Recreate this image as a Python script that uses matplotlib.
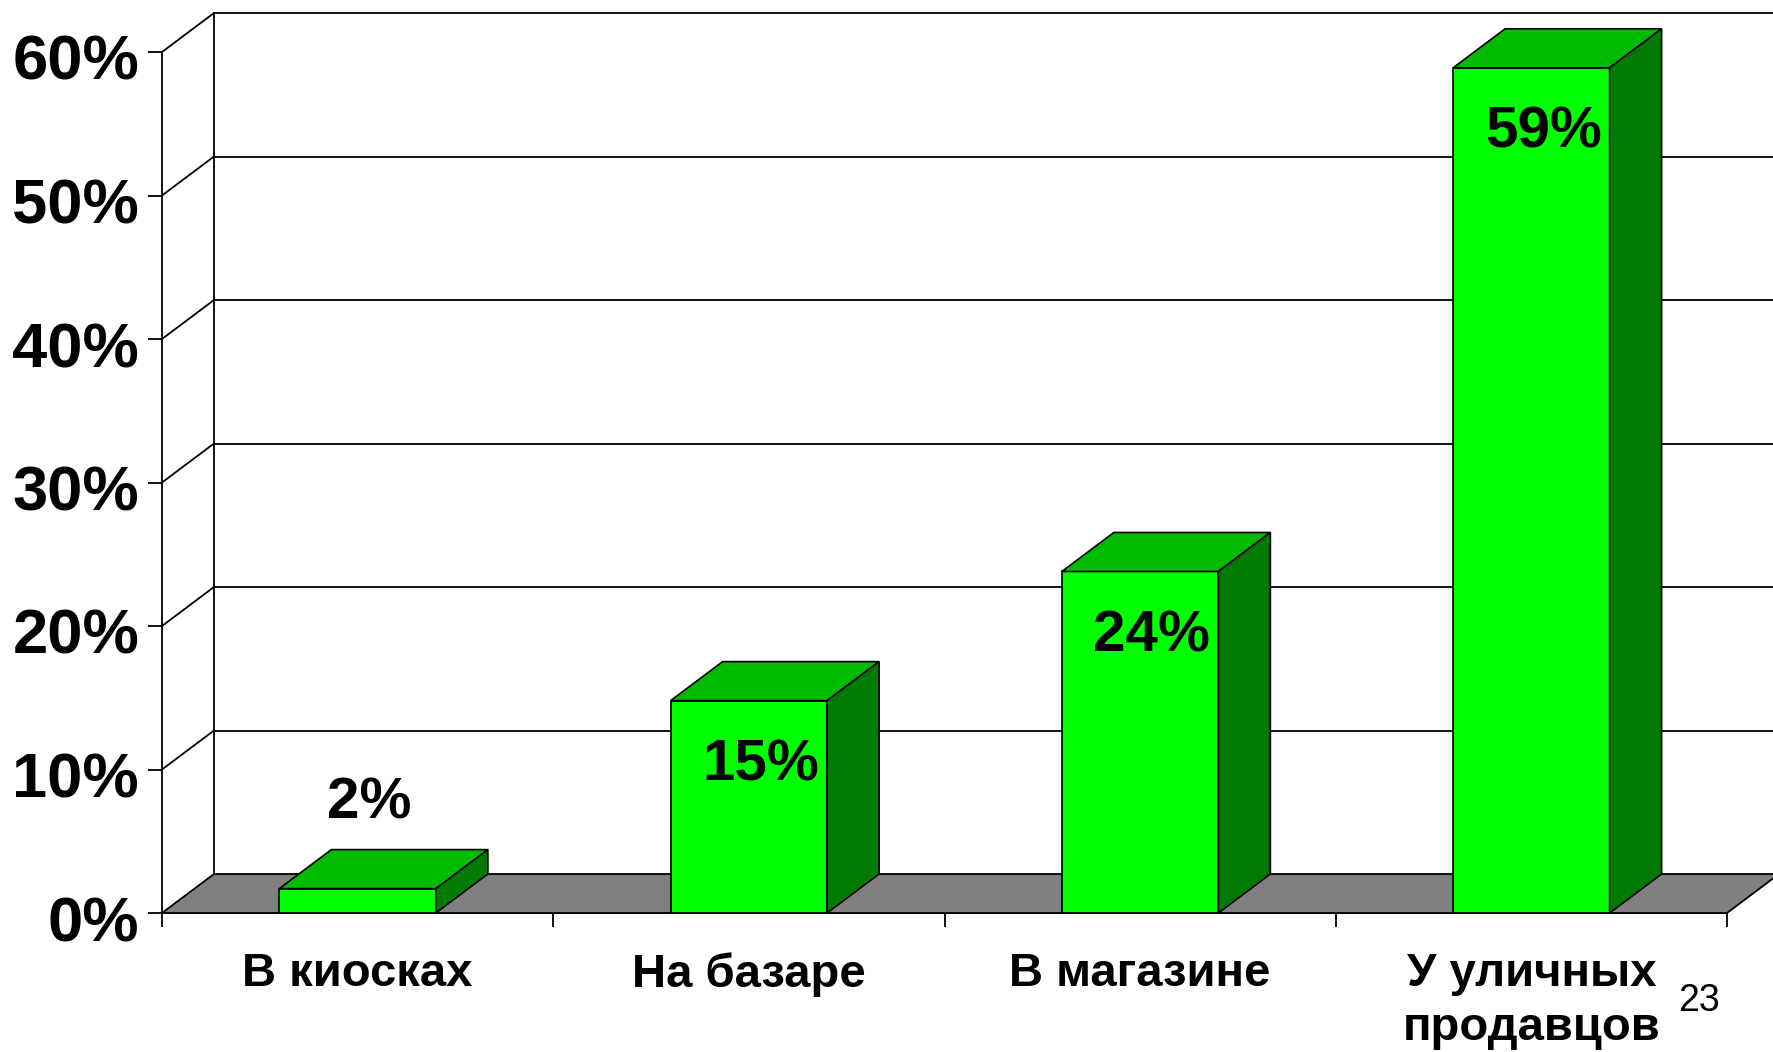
import matplotlib
matplotlib.use('Agg')
import matplotlib.pyplot as plt
from matplotlib.patches import Polygon
from matplotlib.transforms import ScaledTranslation

# ---- data ----
categories = ['В киосках', 'На базаре', 'В магазине', 'У уличных\nпродавцов']
values = [1.7, 14.8, 23.8, 58.9]
value_labels = ['2%', '15%', '24%', '59%']
y_ticks = [0, 10, 20, 30, 40, 50, 60]
y_tick_labels = ['0%', '10%', '20%', '30%', '40%', '50%', '60%']
page_number = '23'

plt.rcParams['font.family'] = ['Liberation Sans', 'DejaVu Sans']

W, H = 1773, 1052
fig = plt.figure(figsize=(W / 100, H / 100), dpi=100)
left_px, right_px, top_px, bottom_px = 162, 1727, 52, 913
ax = fig.add_axes([left_px / W, 1 - bottom_px / H,
                   (right_px - left_px) / W, (bottom_px - top_px) / H])
n = len(categories)
ax.set_xlim(0, n)
ax.set_ylim(0, y_ticks[-1])

# depth offset expressed in data units
ddx = 52 / (right_px - left_px) * n
ddy = 39 / (bottom_px - top_px) * y_ticks[-1]

line_kw = dict(color='black', lw=1.3, clip_on=False)

# back wall gridlines and side-wall diagonals
for t in y_ticks:
    if t > 0:
        ax.plot([ddx, n + ddx], [t + ddy, t + ddy], zorder=0.5, **line_kw)
        ax.plot([0, ddx], [t, t + ddy], zorder=0.5, **line_kw)
ax.plot([ddx, ddx], [ddy, y_ticks[-1] + ddy], zorder=0.5, **line_kw)

# floor
ax.add_patch(Polygon([(0, 0), (n, 0), (n + ddx, ddy), (ddx, ddy)],
                     closed=True, fc='#808080', ec='black', lw=1.3,
                     zorder=1, clip_on=False))

# bars
bw = 0.4
for i, v in enumerate(values):
    c = i + 0.5
    x0, x1 = c - bw / 2, c + bw / 2
    z = 3 + i
    ax.add_patch(Polygon([(x0, 0), (x1, 0), (x1, v), (x0, v)], closed=True,
                         fc='#00FF00', ec='black', lw=1.2, zorder=z, clip_on=False))
    ax.add_patch(Polygon([(x0, v), (x1, v), (x1 + ddx, v + ddy), (x0 + ddx, v + ddy)],
                         closed=True, fc='#00BB00', ec='black', lw=1.2, zorder=z,
                         clip_on=False))
    ax.add_patch(Polygon([(x1, 0), (x1 + ddx, ddy), (x1 + ddx, v + ddy), (x1, v)],
                         closed=True, fc='#007A00', ec='black', lw=1.2, zorder=z,
                         clip_on=False))
    ly = v + 5.9 if v < 5 else v - 4.5
    ax.text(c + 0.03, ly, value_labels[i], ha='center', va='center',
            fontsize=42, fontweight='bold', color='black', zorder=20)

# axes styling
for s in ['top', 'right']:
    ax.spines[s].set_visible(False)
for s in ['left', 'bottom']:
    ax.spines[s].set_linewidth(1.3)
    ax.spines[s].set_zorder(0.8)
ax.set_facecolor('none')

ax.set_yticks(y_ticks)
ax.set_yticklabels(y_tick_labels, fontsize=45.5, fontweight='bold')
ax.tick_params(axis='y', length=10, width=1.3, pad=6.5)
shift = ScaledTranslation(0, -5 / 100, fig.dpi_scale_trans)
for lab in ax.get_yticklabels():
    lab.set_transform(lab.get_transform() + shift)

ax.set_xticks(range(n + 1))
ax.set_xticklabels([])
ax.tick_params(axis='x', which='major', length=10, width=1.3)
ax.set_xticks([i + 0.5 for i in range(n)], minor=True)
ax.set_xticklabels(categories, minor=True, fontsize=34, fontweight='bold')
ax.tick_params(axis='x', which='minor', length=0, pad=28)
for lab in ax.get_xticklabels(minor=True):
    lab.set_linespacing(1.3)

fig.text(1699 / W, 1 - 1001 / H, page_number, ha='center', va='center', fontsize=27)

fig.savefig('out.png', dpi=100, facecolor='white')
